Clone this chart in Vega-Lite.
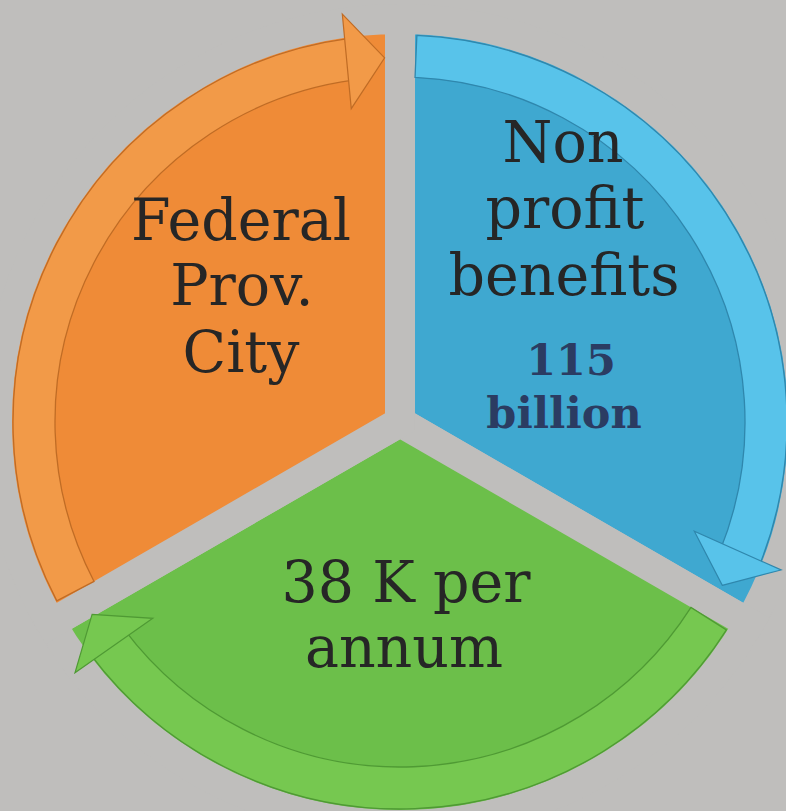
{
  "$schema": "https://vega.github.io/schema/vega-lite/v6.json",
  "width": 786,
  "height": 811,
  "padding": 0,
  "autosize": {"type": "none"},
  "background": "#bfbebc",
  "config": {"view": {"stroke": null}},
  "datasets": {
    "segments": [
      {"seg": "Blue", "t0": 0, "t1": 2.0944},
      {"seg": "Green", "t0": 2.0944, "t1": 4.18879},
      {"seg": "Orange", "t0": 4.18879, "t1": 6.28319}
    ],
    "rims": [
      {"seg": "Blue", "t0": 0.0436, "t1": 1.955},
      {"seg": "Green", "t0": 2.138, "t1": 4.067},
      {"seg": "Orange", "t0": 4.232, "t1": 6.152}
    ],
    "heads": [
      {"seg": "Orange", "x": 365.7, "y": 59.6, "angle": 354.6},
      {"seg": "Blue", "x": 730, "y": 568, "angle": 114},
      {"seg": "Green", "x": 103, "y": 630, "angle": 235}
    ],
    "labels": [
      {"text": "Federal", "x": 241, "y": 240},
      {"text": "Prov.", "x": 242, "y": 305},
      {"text": "City", "x": 241, "y": 372},
      {"text": "Non", "x": 563, "y": 162},
      {"text": "profit", "x": 565, "y": 228},
      {"text": "benefits", "x": 564, "y": 295},
      {"text": "38 K per", "x": 406, "y": 602},
      {"text": "annum", "x": 404, "y": 667}
    ],
    "bold": [
      {"text": "115", "x": 571, "y": 375},
      {"text": "billion", "x": 564, "y": 428}
    ]
  },
  "resolve": {"scale": {"fill": "independent", "stroke": "independent", "color": "independent"}},
  "layer": [
    {
      "data": {"name": "segments"},
      "mark": {"type": "arc", "x": 400, "y": 422, "outerRadius": 403, "stroke": "#bfbebc", "strokeWidth": 30, "strokeJoin": "miter"},
      "encoding": {
        "theta": {"field": "t0", "type": "quantitative", "scale": null},
        "theta2": {"field": "t1"},
        "fill": {"field": "seg", "type": "nominal", "legend": null,
          "scale": {"domain": ["Blue", "Green", "Orange"], "range": ["#3fa8d0", "#6cbf4a", "#ef8b37"]}}
      }
    },
    {
      "data": {"name": "rims"},
      "mark": {"type": "arc", "x": 400, "y": 422, "innerRadius": 345, "outerRadius": 387, "strokeWidth": 1.3},
      "encoding": {
        "theta": {"field": "t0", "type": "quantitative", "scale": null},
        "theta2": {"field": "t1"},
        "fill": {"field": "seg", "type": "nominal", "legend": null,
          "scale": {"domain": ["Blue", "Green", "Orange"], "range": ["#58c3ea", "#76c850", "#f29a48"]}},
        "stroke": {"field": "seg", "type": "nominal", "legend": null,
          "scale": {"domain": ["Blue", "Green", "Orange"], "range": ["#2f87ad", "#4f9a34", "#c06c25"]}}
      }
    },
    {
      "data": {"name": "heads"},
      "mark": {"type": "point", "filled": true, "shape": "M0.4,0 L-0.4,-1 L-0.4,1 Z", "size": 9025, "strokeWidth": 1.2, "opacity": 1},
      "encoding": {
        "x": {"field": "x", "type": "quantitative", "scale": {"domain": [0, 786], "nice": false, "zero": false}, "axis": null},
        "y": {"field": "y", "type": "quantitative", "scale": {"domain": [0, 811], "nice": false, "zero": false, "reverse": true}, "axis": null},
        "angle": {"field": "angle", "type": "quantitative", "scale": null},
        "fill": {"field": "seg", "type": "nominal", "legend": null,
          "scale": {"domain": ["Blue", "Green", "Orange"], "range": ["#58c3ea", "#76c850", "#f29a48"]}},
        "stroke": {"field": "seg", "type": "nominal", "legend": null,
          "scale": {"domain": ["Blue", "Green", "Orange"], "range": ["#2f87ad", "#4f9a34", "#c06c25"]}}
      }
    },
    {
      "data": {"name": "labels"},
      "mark": {"type": "text", "font": "DejaVu Serif", "fontSize": 57, "color": "#262626", "align": "center", "baseline": "alphabetic"},
      "encoding": {
        "x": {"field": "x", "type": "quantitative", "scale": {"domain": [0, 786], "nice": false, "zero": false}, "axis": null},
        "y": {"field": "y", "type": "quantitative", "scale": {"domain": [0, 811], "nice": false, "zero": false, "reverse": true}, "axis": null},
        "text": {"field": "text"}
      }
    },
    {
      "data": {"name": "bold"},
      "mark": {"type": "text", "font": "DejaVu Serif", "fontSize": 43, "fontWeight": "bold", "color": "#2b3c62", "align": "center", "baseline": "alphabetic"},
      "encoding": {
        "x": {"field": "x", "type": "quantitative", "scale": {"domain": [0, 786], "nice": false, "zero": false}, "axis": null},
        "y": {"field": "y", "type": "quantitative", "scale": {"domain": [0, 811], "nice": false, "zero": false, "reverse": true}, "axis": null},
        "text": {"field": "text"}
      }
    }
  ]
}
